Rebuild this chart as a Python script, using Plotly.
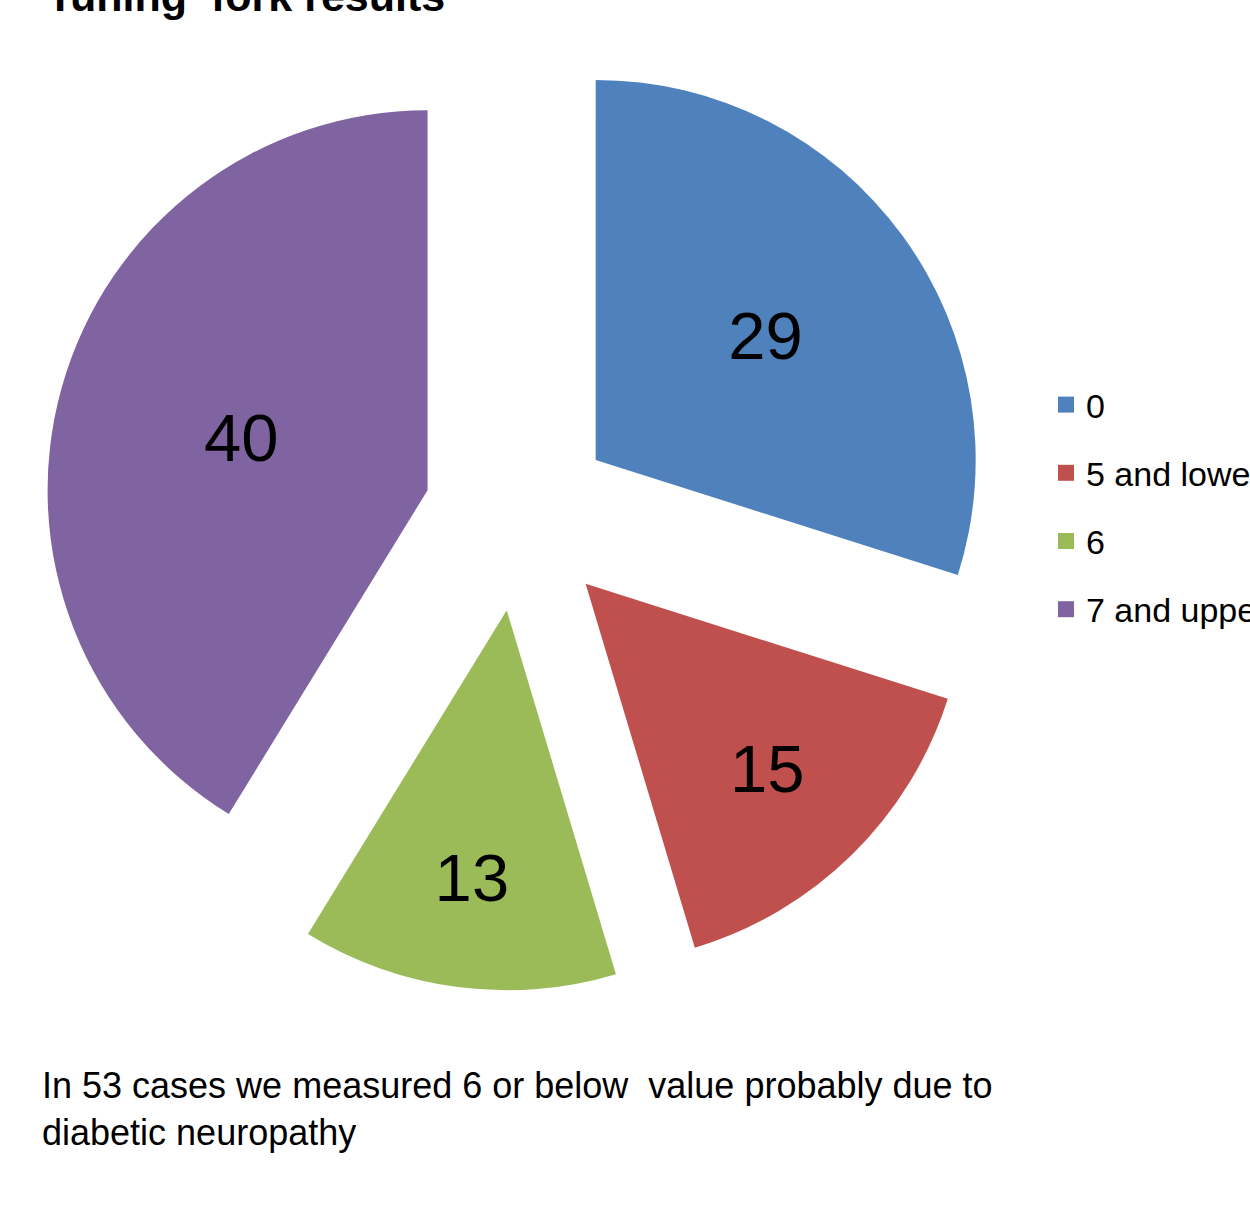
import plotly.graph_objects as go

title_text = "Tuning  fork results"
categories = ["0", "5 and lower", "6", "7 and upper"]
values = [29, 15, 13, 40]
colors = ["#4F81BD", "#C0504D", "#9BBB59", "#8064A2"]
note_text = "In 53 cases we measured 6 or below  value probably due to<br>diabetic neuropathy"

W, H = 1250, 1222
FONT = "Liberation Sans, Arial, sans-serif"

fig = go.Figure(go.Pie(
    labels=categories,
    values=values,
    sort=False,
    direction="clockwise",
    rotation=0,
    pull=[0.25] * len(values),
    marker=dict(colors=colors, line=dict(width=0)),
    texttemplate="%{value}",
    textposition="inside",
    insidetextorientation="horizontal",
    textfont=dict(family=FONT, size=67, color="black"),
    domain=dict(x=[44 / W, 994 / W], y=[1 - 991 / H, 1 - 41 / H]),
    hoverinfo="label+value",
    showlegend=False,
))

# legend entries (one per category, same colours as the slices)
for cat, col in zip(categories, colors):
    fig.add_trace(go.Scatter(
        x=[None], y=[None], mode="markers", name=cat, legendgroup=cat,
        marker=dict(symbol="square", size=16, color=col),
        showlegend=True, hoverinfo="skip",
    ))

fig.update_layout(
    width=W, height=H,
    margin=dict(l=0, r=0, t=0, b=0, autoexpand=False),
    paper_bgcolor="white",
    plot_bgcolor="white",
    xaxis=dict(visible=False),
    yaxis=dict(visible=False),
    showlegend=True,
    legend=dict(
        x=1046 / W, xanchor="left",
        y=1 - 376 / H, yanchor="top",
        font=dict(family=FONT, size=34, color="black"),
        bgcolor="rgba(0,0,0,0)",
        tracegroupgap=21,
        itemclick=False, itemdoubleclick=False,
    ),
    annotations=[
        dict(text="<b>" + title_text + "</b>", xref="paper", yref="paper",
             x=45 / W, y=1 + 4 / H, xanchor="left", yanchor="middle", showarrow=False,
             font=dict(family=FONT, size=43, color="black")),
        dict(text=note_text, xref="paper", yref="paper",
             x=40 / W, y=1 - 1063 / H, xanchor="left", yanchor="top", align="left", showarrow=False,
             font=dict(family=FONT, size=36, color="black")),
    ],
)

fig.write_html("out.html")
